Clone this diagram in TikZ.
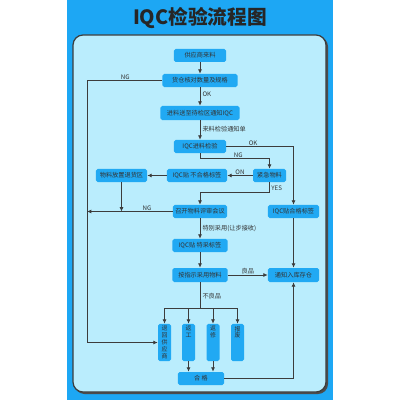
\documentclass[tikz,border=0pt]{standalone}
\usepackage{fontspec}
\newfontfamily\cjk{Noto Sans CJK SC}
\usetikzlibrary{arrows.meta}
\definecolor{signblue}{HTML}{1DA7F4}
\definecolor{panelcyan}{HTML}{BAEDFD}
\definecolor{boxblue}{HTML}{21A9F3}
\definecolor{linegray}{HTML}{3C3C3C}
\newcommand{\gap}{\phantom{返}}
\tikzset{
  stepbox/.style={fill=boxblue, rounded corners=0.4mm, inner sep=0pt,
    minimum height=3.25mm, text=black!80,
    font=\cjk\fontsize{4.4}{5.3}\selectfont},
  tallbox/.style={stepbox, minimum width=3.25mm, minimum height=9.25mm, align=center,
    font=\cjk\fontsize{4.2}{4.9}\selectfont},
  flow/.style={draw=linegray, line width=0.6pt, -{Latex[length=1.1mm,width=1mm]}},
  link/.style={draw=linegray, line width=0.6pt},
  lbl/.style={font=\cjk\fontsize{4.4}{5.3}\selectfont, text=black!80, inner sep=0.5pt}
}
\begin{document}
\begin{tikzpicture}[x=0.025cm, y=-0.025cm]
\useasboundingbox (0,0) rectangle (400,400);
%sign background
\fill[signblue] (67,0) rectangle (333,400);
\fill[black!70] (74.5,36.5) [rounded corners=2.5mm] rectangle (328,394);
\filldraw[fill=panelcyan, draw=linegray, line width=0.9pt, rounded corners=2.5mm] (73,35) rectangle (326,392);
\node[font=\cjk\bfseries\fontsize{14}{16}\selectfont, text=black!85] (title) at (200,18.5) {IQC检验流程图};
%main column
\node[stepbox, minimum width=13mm] (src) at (200,55.5) {供应商来料};
\node[stepbox, minimum width=18.75mm] (chk) at (200,80.5) {货仓核对数量及规格};
\node[stepbox, minimum width=19.75mm, minimum height=3.5mm] (wait) at (200,113) {进料送至待检区通知IQC};
\node[stepbox, minimum width=13mm] (iqc) at (200,146.5) {IQC进料检验};
\node[stepbox, minimum width=8.25mm] (urg) at (269.5,175.5) {紧急物料};
\node[stepbox, minimum width=15mm] (ngtag) at (197,175.5) {IQC贴 不合格标签};
\node[stepbox, minimum width=12.75mm] (ret) at (121.5,175.5) {物料放置退货区};
\node[stepbox, minimum width=13.5mm] (mrb) at (200,211.5) {召开物料评审会议};
\node[stepbox, minimum width=12.75mm] (oktag) at (293.5,211.5) {IQC贴合格标签};
\node[stepbox, minimum width=13.75mm] (sptag) at (200,245.5) {IQC贴 特采标签};
\node[stepbox, minimum width=13.75mm, minimum height=3.5mm] (use) at (200,275) {按指示采用物料};
\node[stepbox, minimum width=12.75mm, minimum height=3.5mm] (store) at (293.5,275) {通知入库存仓};
%bad parts
\node[tallbox] (back) at (164.5,342.5) {退\\回\\供\\应\\商};
\node[tallbox] (rework) at (188.5,342.5) {返\\工\\\gap\\\gap\\\gap};
\node[tallbox] (repair) at (213,342.5) {返\\修\\\gap\\\gap\\\gap};
\node[tallbox] (scrap) at (237.5,342.5) {报\\废\\\gap\\\gap\\\gap};
\node[stepbox, minimum width=11.5mm] (pass) at (201,378.5) {合\ 格};
%turning points
\coordinate (ngtop) at (87,80.5);
\coordinate (ngbot) at (87,342.5);
\coordinate (ngmid) at (87,211.5);
\coordinate (retdrop) at (121.5,211.5);
\coordinate (split) at (200,308);
%connectors
\draw[flow] (src) -- (chk);
\draw[flow] (chk) -- node[lbl, right=1pt, pos=0.4] {OK} (wait);
\draw[link] (chk.west) -- node[lbl, above, pos=0.49] {NG} (ngtop);
\draw[flow] (ngtop) -- (ngbot) -- (back.west);
\draw[flow] (wait) -- node[lbl, right=1pt, pos=0.45] {来料检验通知单} (iqc);
\draw[flow] (iqc.east) -- node[lbl, above, pos=0.4] {OK} (iqc.east -| oktag.north) -- (oktag.north);
\draw[flow] (iqc.south) -- ++(0,5.5) -- node[lbl, above, pos=0.55] {NG} ++(69.5,0) -- (urg.north);
\draw[flow] (urg) -- node[lbl, above] {ON} (ngtag);
\draw[flow] (ngtag) -- (ret);
\draw[flow] (ret.south) -- (retdrop);
\draw[flow] (urg.south) -- node[lbl, right=0.5pt, pos=0.55] {YES} ++(0,10) -| (mrb.north);
\draw[flow] (mrb.west) -- node[lbl, above, pos=0.3] {NG} (ngmid);
\draw[flow] (mrb) -- node[lbl, right=1pt] {特别采用(让步接收)} (sptag);
\draw[flow] (sptag) -- (use);
\draw[flow] (oktag) -- (store);
\draw[flow] (use) -- node[lbl, above] {良品} (store);
\draw[link] (use.south) -- node[lbl, right=1pt, pos=0.55] {不良品} (split);
\draw[link] (split -| back) -- (split -| scrap);
\foreach \part in {back,rework,repair,scrap}
  \draw[flow] (split -| \part) -- (\part.north);
\draw[flow] (rework.south) -- (rework.south |- pass.north);
\draw[flow] (repair.south) -- (repair.south |- pass.north);
\draw[flow] (pass.east) -| (store.south);
\end{tikzpicture}
\end{document}
